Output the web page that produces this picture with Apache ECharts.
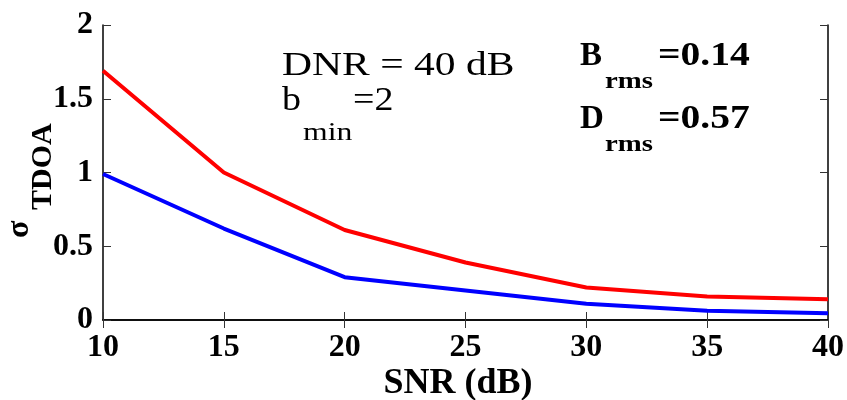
<!DOCTYPE html>
<html><head><meta charset="utf-8">
<script src="https://cdn.jsdelivr.net/npm/echarts@6/dist/echarts.min.js"></script>
<style>html,body{margin:0;padding:0;background:#fff}#c{width:847px;height:400px}</style>
</head><body><div id="c"></div>
<script>
const snr = [10, 15, 20, 25, 30, 35, 40];
const redSeries = [1.69, 1.00, 0.61, 0.39, 0.22, 0.16, 0.14];
const blueSeries = [0.99, 0.62, 0.29, 0.20, 0.11, 0.063, 0.045];
const xTicks = [10, 15, 20, 25, 30, 35, 40];
const yTicks = [0, 0.5, 1, 1.5, 2];

const SERIF = 'Liberation Serif';
const chart = echarts.init(document.getElementById('c'));
const axisCommon = {
  type: 'value',
  axisLine: {show: true, lineStyle: {color: '#000', width: 1.5}},
  axisTick: {show: true, inside: true, length: 8, lineStyle: {color: '#333', width: 1}},
  splitLine: {show: false}
};
function txt(text, x, y, size, bold, sx, extra) {
  return Object.assign({
    type: 'text', x: x, y: y, scaleX: sx || 1,
    style: {text: text, fill: '#000', font: (bold ? 'bold ' : '') + size + 'px ' + SERIF,
            textAlign: 'left', textVerticalAlign: 'middle'}
  }, extra || {});
}
chart.setOption({
  animation: false,
  backgroundColor: '#fff',
  grid: {left: 103, right: 18, top: 25, bottom: 80},
  xAxis: [
    Object.assign({}, axisCommon, {
      min: xTicks[0], max: xTicks[xTicks.length - 1], interval: 5, position: 'bottom',
      axisLabel: {color: '#000', fontFamily: SERIF, fontWeight: 'bold', fontSize: 32, margin: 12}
    }),
    Object.assign({}, axisCommon, {
      min: xTicks[0], max: xTicks[xTicks.length - 1], interval: 5, position: 'top',
      axisLabel: {show: false}
    })
  ],
  yAxis: [
    Object.assign({}, axisCommon, {
      min: yTicks[0], max: yTicks[yTicks.length - 1], interval: 0.5, position: 'left',
      axisLabel: {color: '#000', fontFamily: SERIF, fontWeight: 'bold', fontSize: 32, margin: 10}
    }),
    Object.assign({}, axisCommon, {
      min: yTicks[0], max: yTicks[yTicks.length - 1], interval: 0.5, position: 'right',
      axisLabel: {show: false}
    })
  ],
  series: [
    {type: 'line', data: snr.map((x, i) => [x, redSeries[i]]), showSymbol: false,
     lineStyle: {color: '#ff0000', width: 4}, itemStyle: {color: '#ff0000'}},
    {type: 'line', data: snr.map((x, i) => [x, blueSeries[i]]), showSymbol: false,
     lineStyle: {color: '#0000ff', width: 4}, itemStyle: {color: '#0000ff'}}
  ],
  graphic: [
    txt('DNR = 40 dB', 282, 66, 33, false, 1.26),
    txt('b', 282, 101, 33, false, 1.15),
    txt('min', 303, 133, 26, false, 1.22),
    txt('=2', 353, 101, 33, false, 1.15),
    txt('B', 580, 56, 33, true, 1),
    txt('rms', 605, 82, 24, true, 1.2),
    txt('=0.14', 658, 56, 33, true, 1.2),
    txt('D', 580, 119, 33, true, 1),
    txt('rms', 605, 145, 24, true, 1.2),
    txt('=0.57', 658, 119, 33, true, 1.2),
    {type: 'text', x: 458, y: 384, style: {text: 'SNR (dB)', fill: '#000', font: 'bold 36px ' + SERIF, textAlign: 'center', textVerticalAlign: 'middle'}},
    txt('TDOA', 43, 210, 30, true, 1, {rotation: Math.PI / 2}),
    txt('σ', 20, 238, 32, true, 1, {rotation: Math.PI / 2})
  ]
});
</script></body></html>
